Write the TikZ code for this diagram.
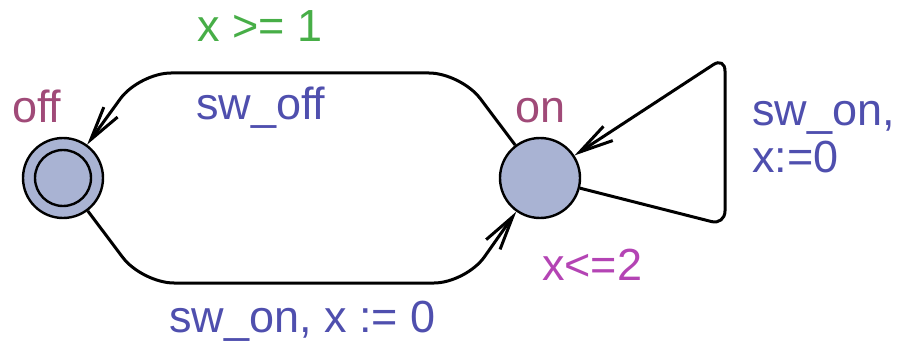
\documentclass[tikz,border=0pt]{standalone}
\usepackage{fontspec}
\setmainfont{Liberation Sans}
\usetikzlibrary{arrows.meta}
\definecolor{locfill}{HTML}{A9B3D3}
\definecolor{namecol}{HTML}{A04A78}
\definecolor{synccol}{HTML}{4F4FAE}
\definecolor{guardcol}{HTML}{47AE47}
\definecolor{invcol}{HTML}{B444B4}
\tikzset{
  loc/.style={circle, draw=black, line width=2.4pt, fill=locfill, minimum size=80pt, inner sep=0pt},
  edge/.style={line width=3pt, -{Straight Barb[length=34pt, width=17pt, line width=3pt]}},
  lbl/.style={anchor=base west, inner sep=0pt, font=\fontsize{45}{47}\selectfont},
}
\begin{document}
\begin{tikzpicture}[x=1pt, y=-1pt]
\useasboundingbox (0,0) rectangle (898,345);
\node[loc] (off) at (63,178) {};
\node[circle, draw=black, line width=2.4pt, minimum size=56pt, inner sep=0pt] (offin) at (63,178) {};
\node[loc] (on) at (540,178) {};

\coordinate (t1) at (461,73);
\coordinate (t2) at (139,73);
\coordinate (b1) at (142,283);
\coordinate (b2) at (466,283);
\coordinate (l1) at (725,225);
\coordinate (l2) at (725,57);

\draw[edge, rounded corners=32pt] (on) -- (t1) -- (t2) -- (off);
\draw[edge, rounded corners=32pt] (off) -- (b1) -- (b2) -- (on);
\draw[edge, rounded corners=14pt] (on) -- (l1) -- (l2) -- (on);

\node[lbl, text=namecol] (offname) at (12,122) {off};
\node[lbl, text=namecol] (onname) at (515,122) {on};
\node[lbl, text=guardcol] (guard) at (197,42) {x >= 1};
\node[lbl, text=synccol] (sync1) at (196,120) {sw\_off};
\node[lbl, text=synccol] (sync2) at (169,332) {sw\_on, x := 0};
\node[lbl, text=synccol] (sync3) at (752,125) {sw\_on,};
\node[lbl, text=synccol] (upd3) at (752,172) {x:=0};
\node[lbl, text=invcol] (inv) at (542,280) {x<=2};
\end{tikzpicture}
\end{document}
